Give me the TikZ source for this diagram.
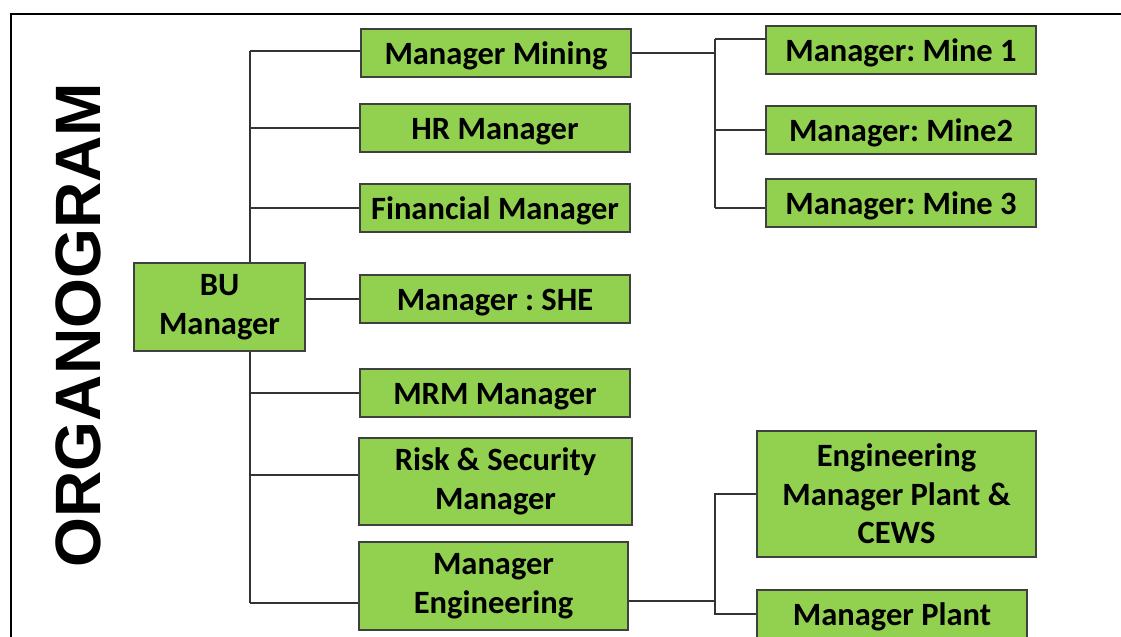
\documentclass[tikz,border=0pt]{standalone}
\usepackage{fontspec}
\setmainfont{Carlito}
\newfontfamily\titlefont{Liberation Sans}
\usepackage{tikz}
\frenchspacing
\definecolor{boxgreen}{HTML}{92D050}
\tikzset{
  post/.style={draw=black!75,line width=0.75pt,fill=boxgreen,align=center,
    inner sep=0pt,minimum width=5.4cm,minimum height=0.96cm,
    font=\fontsize{18.5}{22}\selectfont\bfseries,
    execute at begin node={\rule{0pt}{16.5pt}}},
  bigpost/.style={post,execute at end node={\par\vspace{-0.6pt}}},
  link/.style={draw=black!80,line width=0.6pt},
}

\begin{document}
\begin{tikzpicture}
            \useasboundingbox (0,0) rectangle (22.42,-12.74);
            \clip (0,0) rectangle (22.42,-12.74);
            \draw[line width=0.9pt] (0.22,-0.28) rectangle (23,-13.5);
            \node[rotate=90,font=\titlefont\fontsize{36.5}{40}\selectfont\bfseries] (title) at (1.56,-6.5) {ORGANOGRAM};
            % left column
            \coordinate (trunk) at (5,0);
            \coordinate (fork1) at (14.3,0);
            \coordinate (fork2) at (14.3,0);
            \draw[link] (trunk |- 0,-1.02) -- (trunk |- 0,-12.06);
            \draw[link] (fork1 |- 0,-0.78) -- (fork1 |- 0,-4.16);
            \draw[link] (fork2 |- 0,-9.86) -- (fork2 |- 0,-12.3);
            \node[bigpost,minimum width=3.42cm,minimum height=1.76cm] (bu) at (4.39,-6.14) {BU\\Manager};
            \node[post] (mining) at (9.92,-1.06) {Manager Mining};
            \node[post] (hr) at (9.9,-2.56) {HR Manager};
            \node[post] (fin) at (9.9,-4.16) {Financial Manager};
            \node[post] (she) at (9.9,-5.98) {Manager : SHE};
            \node[post] (mrm) at (9.9,-7.86) {MRM Manager};
            \node[bigpost,minimum width=5.46cm,minimum height=1.74cm] (risk) at (9.91,-9.63) {Risk \& Security\\Manager};
            \node[bigpost,minimum width=5.38cm,minimum height=1.76cm] (eng) at (9.87,-11.72) {Manager\\Engineering};
            % right column
            \node[post] (mine1) at (18.02,-1.0) {Manager: Mine 1};
            \node[post] (mine2) at (18.02,-2.6) {Manager: Mine2};
            \node[post] (mine3) at (18.02,-4.06) {Manager: Mine 3};
            \node[post,minimum width=5.58cm,minimum height=2.52cm] (engplant) at (17.93,-9.88) {Engineering\\Manager Plant \&\\CEWS};
            \node[post] (plant) at (17.84,-12.28) {Manager Plant};
            % connectors
            \draw[link] (trunk |- 0,-1.02) -- (mining.west |- 0,-1.02);
            \draw[link] (trunk |- hr.west) -- (hr.west);
            \draw[link] (trunk |- fin.west) -- (fin.west);
            \draw[link] (bu.east |- she.west) -- (she.west);
            \draw[link] (trunk |- mrm.west) -- (mrm.west);
            \draw[link] (trunk |- 0,-9.5) -- (risk.west |- 0,-9.5);
            \draw[link] (trunk |- 0,-12.06) -- (eng.west |- 0,-12.06);
            \draw[link] (mining.east) -- (fork1 |- mining.east);
            \draw[link] (fork1 |- 0,-0.78) -- (mine1.west |- 0,-0.78);
            \draw[link] (fork1 |- mine2.west) -- (mine2.west);
            \draw[link] (fork1 |- 0,-4.16) -- (mine3.west |- 0,-4.16);
            \draw[link] (eng.east |- 0,-12.02) -- (fork2 |- 0,-12.02);
            \draw[link] (fork2 |- engplant.west) -- (engplant.west);
            \draw[link] (fork2 |- plant.west) -- (plant.west);
        \end{tikzpicture}
\end{document}
